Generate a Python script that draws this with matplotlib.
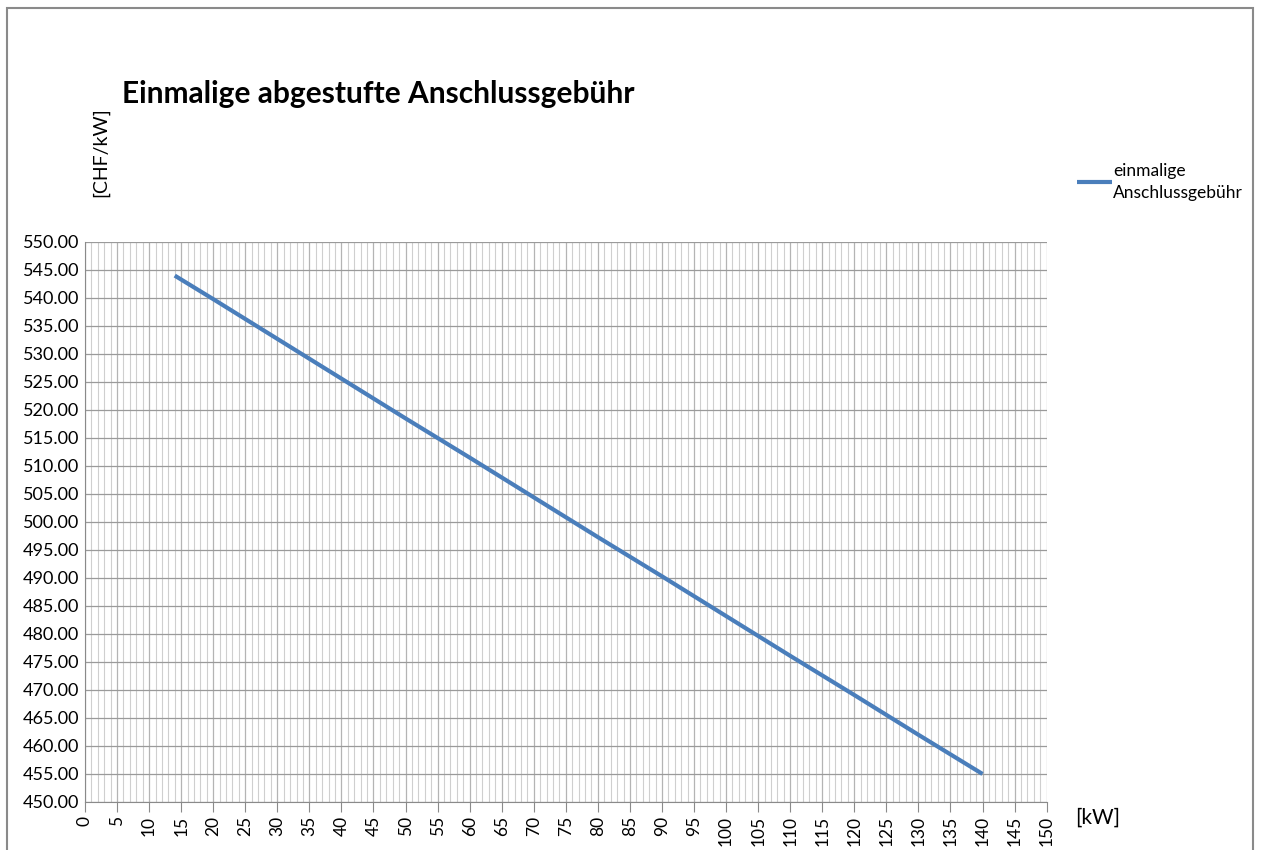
import matplotlib.pyplot as plt
from matplotlib.patches import Rectangle
from matplotlib.ticker import MultipleLocator, FormatStrFormatter

plt.rcParams['font.family'] = ['Lato', 'DejaVu Sans']

# Data
leistung_kw = [14, 20, 30, 40, 50, 60, 70, 80, 90, 100, 110, 120, 130, 140]
gebuehr_chf = [544.0, 539.8, 532.7, 525.6, 518.5, 511.5, 504.4, 497.3,
               490.3, 483.2, 476.1, 469.1, 462.0, 455.0]

title = "Einmalige abgestufte Anschlussgebühr"
series_name = "einmalige\nAnschlussgebühr"

fig = plt.figure(figsize=(12.61, 8.5), dpi=100)
ax = fig.add_axes([0.0674, 0.0565, 0.7626, 0.6588])

line, = ax.plot(leistung_kw, gebuehr_chf, color="#4a7ebb", lw=3,
                solid_capstyle="butt")

ax.set_xlim(0, 150)
ax.set_ylim(450, 550)
ax.xaxis.set_major_locator(MultipleLocator(5))
ax.xaxis.set_minor_locator(MultipleLocator(1))
ax.yaxis.set_major_locator(MultipleLocator(5))
ax.yaxis.set_major_formatter(FormatStrFormatter("%.2f"))

# horizontal grid darker, vertical grid (every kW) lighter
ax.grid(True, which="major", axis="y", color="#9a9a9a", lw=0.9)
ax.grid(True, which="major", axis="x", color="#b4b4b4", lw=0.9)
ax.grid(True, which="minor", axis="x", color="#cfcfcf", lw=0.8)
ax.set_axisbelow(True)

for s in ["top", "right"]:
    ax.spines[s].set_visible(False)
ax.spines["left"].set_color("#8a8a8a")
ax.spines["bottom"].set_color("#8a8a8a")

ax.tick_params(axis="x", which="major", length=7, color="#8a8a8a",
               labelrotation=90, labelsize=12.5, pad=3)
ax.tick_params(axis="x", which="minor", length=0)
ax.tick_params(axis="y", length=0, labelsize=13, pad=4)

fig.text(122 / 1261, 1 - 94 / 850, title, fontsize=21.5, fontweight="bold",
         ha="left", va="center")
fig.text(101 / 1261, 1 - 152 / 850, "[CHF/kW]", fontsize=14, rotation=90,
         ha="center", va="center")
fig.text(1098 / 1261, 1 - 818 / 850, "[kW]", fontsize=15, ha="center",
         va="center")

ax.legend([line], [series_name], loc="upper left", frameon=False,
          bbox_to_anchor=(1070 / 1261, 1 - 156 / 850),
          bbox_transform=fig.transFigure, fontsize=12.5, handlelength=2.0,
          handletextpad=0.1, borderaxespad=0)
plt.setp(ax.get_legend().get_texts(), linespacing=1.45)

fig.patches.append(Rectangle((7 / 1261, -0.01), 1246 / 1261, 1 - 8 / 850 + 0.01,
                             transform=fig.transFigure, fill=False,
                             edgecolor="#8a8a8a", lw=1.5))

fig.savefig("out.png", dpi=100)
